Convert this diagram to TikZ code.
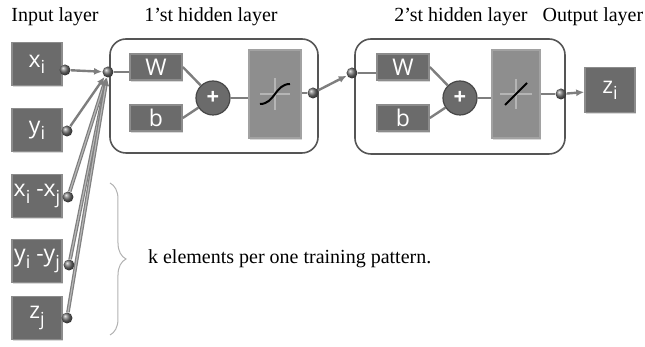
\documentclass[tikz,border=0pt]{standalone}
\usepackage{fontspec}
\setmainfont{Liberation Serif}
\setsansfont{Open Sans}
\usetikzlibrary{arrows.meta,shadows,decorations.pathreplacing}
\definecolor{unitgray}{HTML}{6B6B6B}
\definecolor{rimgray}{HTML}{8C8C8C}
\definecolor{tfgray}{HTML}{8E8E8E}
\definecolor{tfrim}{HTML}{A2A2A2}
\definecolor{wiregray}{HTML}{7E7E7E}
\definecolor{framegray}{HTML}{555555}
\newcommand{\idx}[1]{\raisebox{-0.5ex}{\small #1}}

\begin{document}
\begin{tikzpicture}[x=0.5pt,y=-0.5pt,>={Latex[length=4pt,width=3.5pt]},
unit/.style={draw=rimgray,line width=0.8pt,fill=unitgray,text=white,inner sep=0pt,
  font=\sffamily\fontsize{11.5}{13}\selectfont,
  drop shadow={opacity=.3,shadow xshift=.6pt,shadow yshift=-.8pt}},
inbox/.style={unit,minimum width=25pt,minimum height=21.5pt},
wbox/.style={unit,minimum width=26pt,minimum height=13pt},
tfbox/.style={unit,fill=tfgray,draw=tfrim,minimum width=26pt,minimum height=44pt},
port/.style={circle,shading=ball,ball color=black!55,minimum size=5.5pt,inner sep=0pt},
sum/.style={circle,fill=black!58,draw=black!72,line width=0.6pt,minimum size=17pt,inner sep=0pt,
  text=white,font=\sffamily\bfseries\fontsize{11}{12}\selectfont},
wire/.style={draw=wiregray,line width=1.2pt},
tube/.style={draw=wiregray,line width=0.6pt,double=black!28,double distance=0.6pt},
layer/.style={draw=framegray,line width=0.8pt,rounded corners=8pt},
title/.style={font=\fontsize{10}{12}\selectfont}]
\useasboundingbox (0,0) rectangle (645,347);

% layer titles
\node[title] (tin) at (55,17) {Input layer};
\node[title] (th1) at (211,17) {1’st hidden layer};
\node[title] (th2) at (461,17) {2’st hidden layer};
\node[title] (tout) at (593,17) {Output layer};

% input units
\node[inbox] (xi) at (37,64) {x\idx{i}};
\node[inbox] (yi) at (37,130) {y\idx{i}};
\node[inbox] (dx) at (37,196) {x\idx{i} -x\idx{j}};
\node[inbox] (dy) at (37,261) {y\idx{i} -y\idx{j}};
\node[inbox] (zj) at (37,318) {z\idx{j}};
\node[port] (pxi) at (65,70) {};
\node[port] (pyi) at (67,131) {};
\node[port] (pdx) at (68,197) {};
\node[port] (pdy) at (69,265) {};
\node[port] (pzj) at (67,318) {};

% first hidden layer
\draw[layer] (110,39) rectangle (318,153);
\node[port] (j1) at (108,72) {};
\node[wbox] (W1) at (156,67) {W};
\node[wbox] (b1) at (156,118) {b};
\node[sum] (s1) at (213,98) {+};
\node[tfbox] (tf1) at (275,94) {};
\node[port] (o1) at (313,93) {};
\begin{scope}[shift={(tf1.center)}]
\draw[white,opacity=.35,line width=0.8pt] (-15,0) -- (15,0) (0,-16) -- (0,16);
\draw[black,line width=1pt] (-15,10) .. controls (0,10) and (0,-10) .. (15,-10);
\end{scope}

% second hidden layer
\draw[layer] (355,39) rectangle (565,154);
\node[port] (j2) at (352,73) {};
\node[wbox] (W2) at (403,67) {W};
\node[wbox] (b2) at (403,118) {b};
\node[sum] (s2) at (460,98) {+};
\node[tfbox,minimum width=24pt] (tf2) at (516,94) {};
\node[port] (o2) at (561,94) {};
\begin{scope}[shift={(tf2.center)}]
\draw[white,opacity=.35,line width=0.8pt] (-16,0) -- (16,0) (0,-15) -- (0,15);
\draw[black,line width=1pt] (-11,11) -- (11,-11);
\end{scope}

% output unit
\node[inbox,minimum height=22.5pt] (zi) at (610,90) {z\idx{i}};

% brace over the pairwise inputs
\draw[draw=black!30,line width=0.5pt,decorate,decoration={brace,amplitude=8pt}]
  (110,183) -- (110,335);
\node[title,anchor=west] (note) at (141,259) {k elements per one training pattern.};

% connections
\foreach \p in {pxi,pyi}
  \draw[wire,->] (\p) -- (j1);
\foreach \p in {pdx,pdy,pzj}
  \draw[tube,->] (\p) -- (j1);
\draw[wire] (j1) -- (j1 -| W1.west);
\draw[wire] (W1.east) -- (s1);
\draw[wire] (b1.east) -- (s1);
\draw[wire] (s1) -- (s1 -| tf1.west);
\draw[wire] (tf1.east |- o1) -- (o1);
\draw[wire,->] (o1) -- (j2);
\draw[wire] (j2) -- (j2 -| W2.west);
\draw[wire] (W2.east) -- (s2);
\draw[wire] (b2.east) -- (s2);
\draw[wire] (s2) -- (s2 -| tf2.west);
\draw[wire] (tf2.east |- o2) -- (o2);
\draw[wire,->] (o2) -- (zi);
\end{tikzpicture}
\end{document}
